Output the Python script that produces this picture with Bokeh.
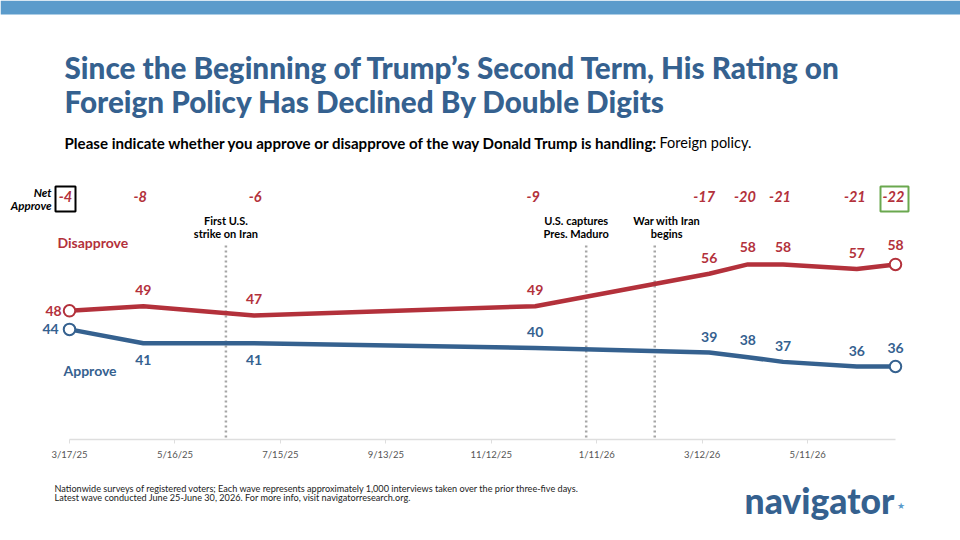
import pandas as pd
from bokeh.plotting import figure
from bokeh.models import Label, BoxAnnotation, FixedTicker, Range1d, DatetimeAxis
from bokeh.embed import file_html
from bokeh.resources import INLINE

# ---- data ----
dates = ["2025-03-17", "2025-04-28", "2025-06-30", "2025-12-07", "2026-03-16",
         "2026-04-07", "2026-04-27", "2026-06-08", "2026-06-30"]
disapprove = [48, 49, 47, 49, 56, 58, 58, 57, 58]
approve = [44, 41, 41, 40, 39, 38, 37, 36, 36]
net = [-4, -8, -6, -9, -17, -20, -21, -21, -22]
tick_dates = ["2025-03-17", "2025-05-16", "2025-07-15", "2025-09-13", "2025-11-12",
              "2026-01-11", "2026-03-12", "2026-05-11"]
tick_labels = ["3/17/25", "5/16/25", "7/15/25", "9/13/25", "11/12/25", "1/11/26", "3/12/26", "5/11/26"]
event_dates = ["2025-06-14", "2026-01-05", "2026-02-13"]
event_lines = [["First U.S.", "strike on Iran"], ["U.S. captures", "Pres. Maduro"], ["War with Iran", "begins"]]
title_lines = ["Since the Beginning of Trump\u2019s Second Term, His Rating on",
               "Foreign Policy Has Declined By Double Digits"]
question_bold = "Please indicate whether you approve or disapprove of the way Donald Trump is handling:"
question_rest = "Foreign policy."
foot_lines = ["Nationwide surveys of registered voters; Each wave represents approximately 1,000 interviews taken over the prior three-five days.",
              "Latest wave conducted June 25-June 30, 2026. For more info, visit navigatorresearch.org."]

# ---- styles / layout ----
RED, BLUE, GREY = "#b3313b", "#35618f", "#a6a6a6"
FONT = "Lato"
HEAVY = "Lato Black"
W, H = 960, 540
def ms(d):
    return pd.Timestamp(d).value / 1e6
X = [ms(d) for d in dates]

DAY = 86400000.0
PX_DAY = (895 - 69) / 470.0      # pixels per day
PX_UNIT = 4.64                   # pixels per point
BASE = 20.27                     # value at the axis line
AXIS_Y = 439
x0 = ms(dates[0]) - 69 / PX_DAY * DAY
x1 = x0 + W / PX_DAY * DAY
y1 = BASE + AXIS_Y / PX_UNIT
y0 = BASE - (H - AXIS_Y) / PX_UNIT

p = figure(width=W, height=H, output_backend="svg", toolbar_location=None,
           x_axis_location=None, y_axis_location=None,
           x_range=Range1d(x0, x1), y_range=Range1d(y0, y1),
           min_border_left=0, min_border_right=0, min_border_top=0, min_border_bottom=0)
p.outline_line_color = None
p.grid.visible = False
ax = DatetimeAxis(fixed_location=BASE, bounds=(ms(dates[0]), ms(dates[-1])))
ax.ticker = FixedTicker(ticks=[ms(d) for d in tick_dates])
ax.major_label_overrides = {ms(d): t for d, t in zip(tick_dates, tick_labels)}
ax.axis_line_color = "#dedede"
ax.axis_line_width = 1.5
ax.major_tick_line_color = "#dedede"
ax.major_tick_in = 0
ax.major_tick_out = 4
ax.minor_tick_line_color = None
ax.major_label_text_font = FONT
ax.major_label_text_font_size = "9.5px"
ax.major_label_text_color = "#555555"
ax.major_label_standoff = 5
p.add_layout(ax, "below")

def canvas_text(x, y, text, size, color="#000000", style="normal", align="left", font=FONT):
    p.add_layout(Label(x=x, y=y, x_units="canvas", y_units="canvas", text=text,
                       text_font=font, text_font_size=f"{size}px", text_color=color,
                       text_font_style=style, text_align=align, text_baseline="middle"))

def data_text(x, y, text, dx, dy, size, color, style="bold"):
    p.add_layout(Label(x=x, y=y, x_offset=dx, y_offset=dy, text=str(text),
                       text_font=FONT, text_font_size=f"{size}px", text_color=color,
                       text_font_style=style, text_align="center", text_baseline="middle"))

# top band
p.add_layout(BoxAnnotation(left=0, right=W, top=0, bottom=14, left_units="canvas", right_units="canvas",
                           top_units="canvas", bottom_units="canvas", fill_color="#5b9bcb", fill_alpha=1,
                           line_color=None))

# event markers
EV_TOP, EV_BOTTOM, EV_ROW1, EV_ROW2 = 62.5, 20.7, 67.4, 64.6
for d, lines, dx in zip(event_dates, event_lines, [0, -10, 12]):
    p.segment(x0=[ms(d)], y0=[EV_BOTTOM], x1=[ms(d)], y1=[EV_TOP], line_color=GREY, line_width=2.5, line_dash="2 3")
    data_text(ms(d), EV_ROW1, lines[0], dx, 0, 11, "#000000")
    data_text(ms(d), EV_ROW2, lines[1], dx, 0, 11, "#000000")

# lines
p.line(X, disapprove, line_color=RED, line_width=4.5, line_join="round")
p.line(X, approve, line_color=BLUE, line_width=4.5, line_join="round")
for series, col in ((disapprove, RED), (approve, BLUE)):
    i = [0, len(X) - 1]
    p.scatter([X[k] for k in i], [series[k] for k in i], size=11.5, fill_color="white", line_color=col, line_width=2)

# value labels
red_off = [(-16, 0), (0, 16), (0, 16), (0, 16), (0, 16), (0, 17), (0, 17), (0, 16), (0, 19)]
blue_off = [(-19, 0), (0, -17), (0, -17), (0, 16), (0, 16), (0, 17), (0, 16), (0, 16), (0, 19)]
for x, v, (dx, dy) in zip(X, disapprove, red_off):
    data_text(x, v, v, dx, dy, 14, RED)
for x, v, (dx, dy) in zip(X, approve, blue_off):
    data_text(x, v, v, dx, dy, 14, BLUE)

# net row
NET_ROW = 72.6
net_dx = [-4, -3, 1, -2, -5, -3, -3, -2, -2]
for x, v, dx in zip(X, net, net_dx):
    data_text(x, NET_ROW, v, dx, 0, 14.5, RED, style="bold italic")
for l, r, col, w in ((55, 75, "#000000", 2), (880, 908, "#6aa84f", 2)):
    p.add_layout(BoxAnnotation(left=l, right=r, top=186, bottom=211,
                               left_units="canvas", right_units="canvas", top_units="canvas", bottom_units="canvas",
                               fill_alpha=0, line_color=col, line_alpha=1, line_width=w))
canvas_text(51, 192, "Net", 11.5, style="bold italic", align="right")
canvas_text(51, 205, "Approve", 11.5, style="bold italic", align="right")
canvas_text(57, 242, "Disapprove", 14, RED, "bold")
canvas_text(63, 370, "Approve", 14, BLUE, "bold")

# headings
canvas_text(64, 67, title_lines[0], 29.7, BLUE, "bold", font=HEAVY)
canvas_text(64, 101, title_lines[1], 29.7, BLUE, "bold", font=HEAVY)
canvas_text(64, 142, question_bold, 15.1, style="bold")
canvas_text(659, 142, question_rest, 14.5)

# footer
canvas_text(54, 488, foot_lines[0], 9.15, "#222222")
canvas_text(54, 497, foot_lines[1], 9.15, "#222222")
canvas_text(744, 500, "navigator", 35.5, BLUE, "bold", font=HEAVY)
canvas_text(896, 505, "\u2605", 9, "#5b9bcb")

open("out.html", "w").write(file_html(p, INLINE))
